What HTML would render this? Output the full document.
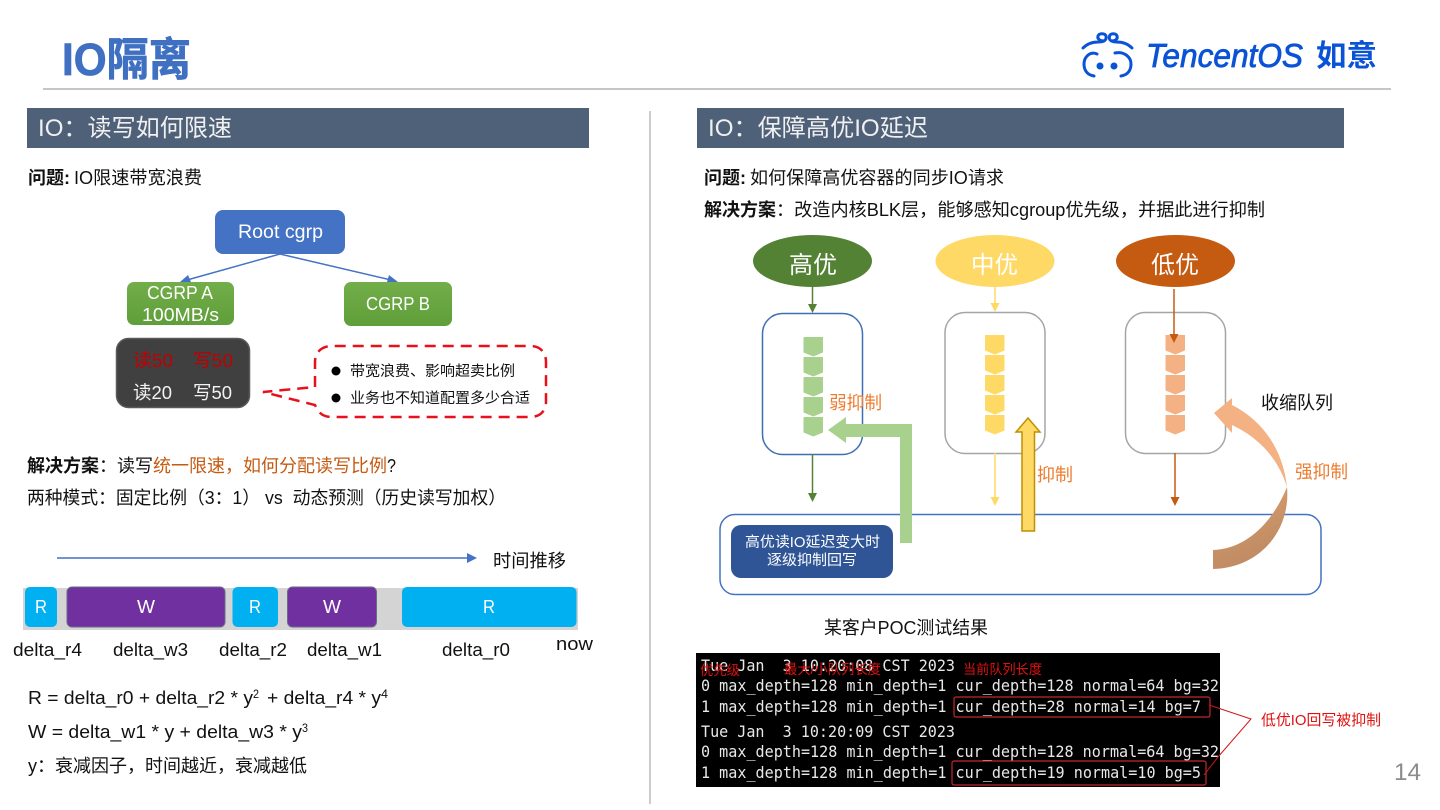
<!DOCTYPE html>
<html><head><meta charset="utf-8"><style>
html,body{margin:0;padding:0;background:#fff;width:1440px;height:810px;overflow:hidden}
svg{display:block}
text{font-family:"Liberation Sans","Noto Sans CJK SC",sans-serif;fill:#111;white-space:pre}
.w{fill:#fff}.o{fill:#ed7d31}.b{font-weight:700}
.m{font-family:"DejaVu Sans Mono","Liberation Mono",monospace;font-size:16px;fill:#e8e8e8}
.r{fill:#e01010}
</style></head><body>
<svg width="1440" height="810" viewBox="0 0 1440 810" xmlns="http://www.w3.org/2000/svg">
<defs>
<linearGradient id="g" x1="0" y1="0" x2="0" y2="1"><stop offset="0" stop-color="#72ae4a"/><stop offset="1" stop-color="#5f9e3a"/></linearGradient>
<linearGradient id="c" x1="0" y1="0" x2="0.4" y2="1"><stop offset="0" stop-color="#d9a071"/><stop offset="1" stop-color="#bf8a62"/></linearGradient>
<path id="chev" d="M0,0H19.500V15.500L9.750,19.500L0,15.500Z"/>
</defs>

<!-- title -->
<text x="62" y="75" font-size="45" class="b" style="fill:#3f70c2;stroke:#3f70c2;stroke-width:.8" textLength="129" lengthAdjust="spacingAndGlyphs">IO隔离</text>
<line x1="43" y1="89" x2="1391" y2="89" stroke="#b4b4b4" stroke-width="1.500"/>
<line x1="650" y1="111" x2="650" y2="804" stroke="#bcbcbc" stroke-width="1.500"/>

<!-- logo -->
<g fill="none" stroke="#0a52d6" stroke-width="3" stroke-linecap="round">
<path d="M1083,48C1087,44 1092,42 1098,42C1104,42 1107,40 1106,36C1105,33 1099,33 1098,36C1097,39 1100,41 1104,41"/>
<path d="M1132,48C1128,44 1123,42 1117,42C1111,42 1108.500,40 1109.500,36C1110.500,33 1116,33 1117,36C1118,39 1115.500,41 1111.500,41"/>
<path d="M1097,54C1090,51 1084,57 1084,64C1084,71 1088,75 1094,76"/>
<path d="M1115,53C1124,51 1131,57 1131,64C1131,71 1127,75 1121,76"/>
</g>
<circle cx="1100" cy="66" r="3.500" fill="#0a52d6"/><circle cx="1114" cy="66" r="3.500" fill="#0a52d6"/>
<text x="1146" y="67" font-size="33" font-style="italic" style="fill:#0a52d6;stroke:#0a52d6;stroke-width:.8" textLength="157" lengthAdjust="spacingAndGlyphs">TencentOS</text>
<text x="1316" y="66" font-size="30" class="b" style="fill:#0a52d6" textLength="61" lengthAdjust="spacingAndGlyphs">如意</text>

<!-- headers -->
<rect x="27" y="108" width="562" height="40" fill="#4f6079"/>
<rect x="697" y="108" width="647" height="40" fill="#4f6079"/>
<text x="38" y="136" font-size="24" style="fill:#f0f0f0" textLength="194" lengthAdjust="spacingAndGlyphs">IO：读写如何限速</text>
<text x="708" y="136" font-size="24" style="fill:#f0f0f0" textLength="220" lengthAdjust="spacingAndGlyphs">IO：保障高优IO延迟</text>

<!-- left text -->
<text x="28" y="184" font-size="18" class="b" textLength="42" lengthAdjust="spacingAndGlyphs">问题:</text>
<text x="74" y="184" font-size="18" textLength="128" lengthAdjust="spacingAndGlyphs">IO限速带宽浪费</text>

<!-- tree -->
<line x1="280" y1="254" x2="187" y2="280" stroke="#4472c4" stroke-width="1.500"/>
<polygon points="180,282 188,275 191,282" fill="#4472c4"/>
<line x1="280" y1="254" x2="391" y2="280" stroke="#4472c4" stroke-width="1.500"/>
<polygon points="398,282 389,275 387,282" fill="#4472c4"/>
<rect x="215" y="210" width="130" height="44" rx="8" fill="#4472c4"/>
<text x="238" y="238" font-size="19" class="w" textLength="85" lengthAdjust="spacingAndGlyphs">Root cgrp</text>
<rect x="127" y="282" width="107" height="43" rx="7" fill="url(#g)"/>
<text x="147" y="299" font-size="18.500" class="w" textLength="66" lengthAdjust="spacingAndGlyphs">CGRP A</text>
<text x="142" y="321" font-size="18.500" class="w" textLength="77" lengthAdjust="spacingAndGlyphs">100MB/s</text>
<rect x="344" y="282" width="108" height="44" rx="7" fill="url(#g)"/>
<text x="366" y="310" font-size="18.500" class="w" textLength="64" lengthAdjust="spacingAndGlyphs">CGRP B</text>
<rect x="116.500" y="338.500" width="133" height="69" rx="12" fill="#404040" stroke="#5a5a5a" stroke-width="1.500"/>
<text x="133" y="367" font-size="18.500" style="fill:#c00000" textLength="40" lengthAdjust="spacingAndGlyphs">读50</text>
<text x="193" y="367" font-size="18.500" style="fill:#c00000" textLength="40" lengthAdjust="spacingAndGlyphs">写50</text>
<text x="133" y="399" font-size="18.500" style="fill:#f2f2f2" textLength="39" lengthAdjust="spacingAndGlyphs">读20</text>
<text x="193" y="399" font-size="18.500" style="fill:#f2f2f2" textLength="39" lengthAdjust="spacingAndGlyphs">写50</text>
<path d="M315,387V362C315,352 322,346 332,346H530C540,346 546,352 546,362V402C546,411 540,417 530,417H332C322,417 318,412 315,405L263,392L315,387" fill="none" stroke="#e8101a" stroke-width="2.500" stroke-dasharray="11 7"/>
<circle cx="336" cy="371" r="4.500" fill="#000"/><circle cx="336" cy="398" r="4.500" fill="#000"/>
<text x="350" y="376" font-size="14.500" textLength="165" lengthAdjust="spacingAndGlyphs">带宽浪费、影响超卖比例</text>
<text x="350" y="403" font-size="14.500" textLength="180" lengthAdjust="spacingAndGlyphs">业务也不知道配置多少合适</text>

<text x="27" y="472" font-size="18" class="b" textLength="72" lengthAdjust="spacingAndGlyphs">解决方案</text>
<text x="99" y="472" font-size="18" textLength="54" lengthAdjust="spacingAndGlyphs">：读写</text>
<text x="153" y="472" font-size="18" style="fill:#c55a11" textLength="234" lengthAdjust="spacingAndGlyphs">统一限速，如何分配读写比例</text>
<text x="387" y="472" font-size="18" textLength="9" lengthAdjust="spacingAndGlyphs">?</text>
<text x="27" y="504" font-size="18" textLength="479" lengthAdjust="spacingAndGlyphs">两种模式：固定比例（3：1） vs  动态预测（历史读写加权）</text>

<!-- time -->
<line x1="57" y1="558" x2="470" y2="558" stroke="#4472c4" stroke-width="1.500"/>
<polygon points="477,558 467,553 467,563" fill="#4472c4"/>
<text x="493" y="567" font-size="18" textLength="73" lengthAdjust="spacingAndGlyphs">时间推移</text>
<rect x="23" y="588" width="555" height="42" fill="#d4d4d4"/>
<rect x="25" y="587" width="32" height="40" rx="5" fill="#00b0f0"/>
<rect x="67" y="587" width="158" height="40" rx="5" fill="#7030a0" stroke="#6a6a8a" stroke-width="1"/>
<rect x="232.500" y="587" width="45.500" height="40" rx="5" fill="#00b0f0"/>
<rect x="287.500" y="587" width="89" height="40" rx="5" fill="#7030a0" stroke="#6a6a8a" stroke-width="1"/>
<rect x="402" y="587" width="174.500" height="40" rx="5" fill="#00b0f0"/>
<text class="w" x="35" y="613" font-size="18" textLength="12" lengthAdjust="spacingAndGlyphs">R</text>
<text class="w" x="137" y="613" font-size="18" textLength="18" lengthAdjust="spacingAndGlyphs">W</text>
<text class="w" x="249" y="613" font-size="18" textLength="12" lengthAdjust="spacingAndGlyphs">R</text>
<text class="w" x="323" y="613" font-size="18" textLength="18" lengthAdjust="spacingAndGlyphs">W</text>
<text class="w" x="483" y="613" font-size="18" textLength="12" lengthAdjust="spacingAndGlyphs">R</text>
<text x="13" y="656" font-size="18" textLength="69" lengthAdjust="spacingAndGlyphs">delta_r4</text>
<text x="113" y="656" font-size="18" textLength="75" lengthAdjust="spacingAndGlyphs">delta_w3</text>
<text x="219" y="656" font-size="18" textLength="68" lengthAdjust="spacingAndGlyphs">delta_r2</text>
<text x="307" y="656" font-size="18" textLength="75" lengthAdjust="spacingAndGlyphs">delta_w1</text>
<text x="442" y="656" font-size="18" textLength="68" lengthAdjust="spacingAndGlyphs">delta_r0</text>
<text x="556" y="650" font-size="18" textLength="37" lengthAdjust="spacingAndGlyphs">now</text>

<!-- formulas -->
<text x="28" y="704" font-size="18" textLength="225" lengthAdjust="spacingAndGlyphs">R = delta_r0 + delta_r2 * y</text>
<text x="253" y="698" font-size="12" textLength="6" lengthAdjust="spacingAndGlyphs">2</text>
<text x="267" y="704" font-size="18" textLength="114" lengthAdjust="spacingAndGlyphs">+ delta_r4 * y</text>
<text x="381" y="698" font-size="12" textLength="7" lengthAdjust="spacingAndGlyphs">4</text>
<text x="28" y="738" font-size="18" textLength="274" lengthAdjust="spacingAndGlyphs">W = delta_w1 * y + delta_w3 * y</text>
<text x="302" y="732" font-size="12" textLength="6" lengthAdjust="spacingAndGlyphs">3</text>
<text x="28" y="772" font-size="18" textLength="279" lengthAdjust="spacingAndGlyphs">y：衰减因子，时间越近，衰减越低</text>

<!-- right text -->
<text x="704" y="184" font-size="18" class="b" textLength="42" lengthAdjust="spacingAndGlyphs">问题:</text>
<text x="750" y="184" font-size="18" textLength="254" lengthAdjust="spacingAndGlyphs">如何保障高优容器的同步IO请求</text>
<text x="704" y="216" font-size="18" class="b" textLength="72" lengthAdjust="spacingAndGlyphs">解决方案</text>
<text x="776" y="216" font-size="18" textLength="489" lengthAdjust="spacingAndGlyphs">：改造内核BLK层，能够感知cgroup优先级，并据此进行抑制</text>

<!-- priority diagram -->
<rect x="720" y="514.500" width="601" height="80" rx="15" fill="#fff" stroke="#4472c4" stroke-width="1.500"/>
<rect x="762.500" y="313.500" width="100" height="141" rx="20" fill="#fff" stroke="#3f6fb5" stroke-width="1.500"/>
<rect x="945" y="312.500" width="100" height="141" rx="20" fill="#fff" stroke="#a5a5a5" stroke-width="1.500"/>
<rect x="1125.500" y="312.500" width="100" height="141" rx="20" fill="#fff" stroke="#a5a5a5" stroke-width="1.500"/>

<g fill="#a9d18e"><use href="#chev" x="803.500" y="337"/><use href="#chev" x="803.500" y="357"/><use href="#chev" x="803.500" y="377"/><use href="#chev" x="803.500" y="397"/><use href="#chev" x="803.500" y="417"/></g>
<g fill="#ffd966"><use href="#chev" x="985" y="335"/><use href="#chev" x="985" y="355"/><use href="#chev" x="985" y="375"/><use href="#chev" x="985" y="395"/><use href="#chev" x="985" y="415"/></g>
<g fill="#f4b183"><use href="#chev" x="1165.500" y="335"/><use href="#chev" x="1165.500" y="355"/><use href="#chev" x="1165.500" y="375"/><use href="#chev" x="1165.500" y="395"/><use href="#chev" x="1165.500" y="415"/></g>

<ellipse cx="812.500" cy="261" rx="59.500" ry="26" fill="#548235"/>
<ellipse cx="995" cy="261" rx="59.500" ry="26" fill="#ffd966"/>
<ellipse cx="1175.500" cy="261" rx="59.500" ry="26" fill="#c55a11"/>
<text x="789" y="273" font-size="24" class="w" textLength="48" lengthAdjust="spacingAndGlyphs">高优</text>
<text x="971" y="273" font-size="24" class="w" textLength="47" lengthAdjust="spacingAndGlyphs">中优</text>
<text x="1151" y="273" font-size="24" class="w" textLength="48" lengthAdjust="spacingAndGlyphs">低优</text>

<line x1="812.500" y1="287" x2="812.500" y2="306" stroke="#548235" stroke-width="1.500"/><polygon points="812.500,313 808,304 817,304" fill="#548235"/>
<line x1="995" y1="287" x2="995" y2="305" stroke="#ffd966" stroke-width="1.500"/><polygon points="995,312 990.500,303 999.500,303" fill="#ffd966"/>
<line x1="1174" y1="289" x2="1174" y2="336" stroke="#c55a11" stroke-width="1.500"/><polygon points="1174,343 1169.500,334 1178.500,334" fill="#c55a11"/>
<line x1="812.500" y1="454" x2="812.500" y2="495" stroke="#548235" stroke-width="1.500"/><polygon points="812.500,502 808,493 817,493" fill="#548235"/>
<line x1="995" y1="453" x2="995" y2="499" stroke="#ffd966" stroke-width="1.500"/><polygon points="995,506 990.500,497 999.500,497" fill="#ffd966"/>
<line x1="1175" y1="453" x2="1175" y2="499" stroke="#c55a11" stroke-width="1.500"/><polygon points="1175,506 1170.500,497 1179.500,497" fill="#c55a11"/>

<polygon points="828,430 846,417 846,424 912,424 912,543 900,543 900,437 846,437 846,443" fill="#a9d18e"/>
<polygon points="1028,418 1040,432 1034.500,432 1034.500,531 1022,531 1022,432 1016,432" fill="#ffd966" stroke="#bf9000" stroke-width="1.500"/>
<path d="M1213,550C1245,549 1272,524 1287,487C1291,530 1260,568 1213,569Z" fill="url(#c)"/>
<path d="M1287,487C1283,449 1262,420 1232,405L1232,398L1214,413L1232,433L1232,425C1258,437 1278,458 1287,487Z" fill="#f4b183"/>

<text x="829" y="409" font-size="18" class="o" textLength="53" lengthAdjust="spacingAndGlyphs">弱抑制</text>
<text x="1037" y="481" font-size="18" class="o" textLength="36" lengthAdjust="spacingAndGlyphs">抑制</text>
<text x="1295" y="478" font-size="18" class="o" textLength="53" lengthAdjust="spacingAndGlyphs">强抑制</text>
<text x="1261" y="409" font-size="18" textLength="72" lengthAdjust="spacingAndGlyphs">收缩队列</text>

<rect x="731" y="525" width="162" height="53" rx="10" fill="#2f5597"/>
<text x="745" y="547" font-size="14.500" class="w" textLength="135" lengthAdjust="spacingAndGlyphs">高优读IO延迟变大时</text>
<text x="767" y="565" font-size="14.500" class="w" textLength="90" lengthAdjust="spacingAndGlyphs">逐级抑制回写</text>

<text x="824" y="634" font-size="18" textLength="164" lengthAdjust="spacingAndGlyphs">某客户POC测试结果</text>

<!-- terminal -->
<rect x="696" y="653" width="524" height="134" fill="#000"/>
<text class="m" x="701" y="671" textLength="254" lengthAdjust="spacingAndGlyphs">Tue Jan  3 10:20:08 CST 2023</text>
<text class="m" x="701" y="691" textLength="518" lengthAdjust="spacingAndGlyphs">0 max_depth=128 min_depth=1 cur_depth=128 normal=64 bg=32</text>
<text class="m" x="701" y="712" textLength="500" lengthAdjust="spacingAndGlyphs">1 max_depth=128 min_depth=1 cur_depth=28 normal=14 bg=7</text>
<text class="m" x="701" y="737" textLength="254" lengthAdjust="spacingAndGlyphs">Tue Jan  3 10:20:09 CST 2023</text>
<text class="m" x="701" y="757" textLength="518" lengthAdjust="spacingAndGlyphs">0 max_depth=128 min_depth=1 cur_depth=128 normal=64 bg=32</text>
<text class="m" x="701" y="778" textLength="500" lengthAdjust="spacingAndGlyphs">1 max_depth=128 min_depth=1 cur_depth=19 normal=10 bg=5</text>
<text class="r" x="700" y="675" font-size="13.500" textLength="40" lengthAdjust="spacingAndGlyphs">优先级</text>
<text class="r" x="784" y="674" font-size="13.500" textLength="97" lengthAdjust="spacingAndGlyphs">最大/小队列长度</text>
<text class="r" x="963" y="674" font-size="13.500" textLength="79" lengthAdjust="spacingAndGlyphs">当前队列长度</text>
<rect x="954" y="697" width="256" height="20" rx="2" fill="none" stroke="#c0282d" stroke-width="1.200"/>
<rect x="952" y="761" width="254" height="24" rx="2" fill="none" stroke="#c0282d" stroke-width="1.200"/>
<polyline points="1209,705 1251,719 1218,757 1204,775" fill="none" stroke="#d01818" stroke-width="1"/>
<text class="r" x="1261" y="725" font-size="15" textLength="120" lengthAdjust="spacingAndGlyphs">低优IO回写被抑制</text>

<text x="1394" y="780" font-size="24" style="fill:#8c8c8c" textLength="27" lengthAdjust="spacingAndGlyphs">14</text>
</svg>
</body></html>
